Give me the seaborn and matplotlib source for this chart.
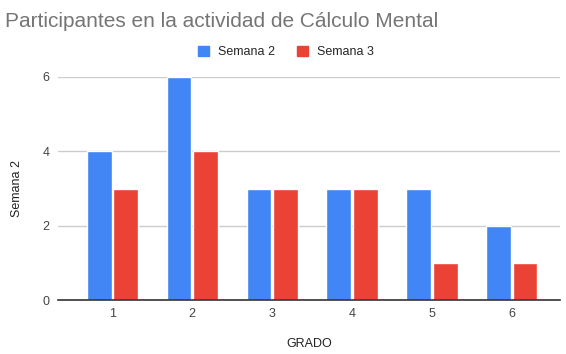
import matplotlib
matplotlib.use('Agg')
import matplotlib.pyplot as plt
from matplotlib.patches import Patch
import pandas as pd
import seaborn as sns

grados = ['1', '2', '3', '4', '5', '6']
semana_2 = [4, 6, 3, 3, 3, 2]
semana_3 = [3, 4, 3, 3, 1, 1]

df = pd.DataFrame({'GRADO': grados * 2,
                   'valor': semana_2 + semana_3,
                   'serie': ['Semana 2'] * 6 + ['Semana 3'] * 6})

sns.set_style('white')
plt.rcParams['font.family'] = ['Arial', 'Liberation Sans', 'DejaVu Sans']

fig = plt.figure(figsize=(5.66, 3.54), dpi=100)
ax = fig.add_axes([0.1025, 0.1525, 0.8865, 0.63])

sns.barplot(data=df, x='GRADO', y='valor', hue='serie',
            palette=['#4285f4', '#ea4335'], width=0.66, gap=0.06,
            saturation=1, ax=ax, legend=False)

ax.set_ylim(0, 6)
ax.set_xlim(-0.68, 5.6)
ax.set_yticks([0, 2, 4, 6])
ax.yaxis.grid(True, color='#cccccc', linewidth=1)
ax.set_axisbelow(True)
for s in ['top', 'right', 'left']:
    ax.spines[s].set_visible(False)
ax.spines['bottom'].set_color('#333333')
ax.spines['bottom'].set_linewidth(1.2)
ax.tick_params(length=0, labelsize=9, labelcolor='#444444', pad=6)
ax.set_xlabel('GRADO', fontsize=9, color='#222222', labelpad=13)
ax.set_ylabel('Semana 2', fontsize=9, color='#222222', labelpad=14)

fig.text(0.009, 0.94, 'Participantes en la actividad de Cálculo Mental',
         fontsize=15, color='#757575', va='center')

handles = [Patch(color='#4285f4', label='Semana 2'),
           Patch(color='#ea4335', label='Semana 3')]
fig.legend(handles=handles, loc='center', bbox_to_anchor=(0.505, 0.853), ncol=2,
           frameon=False, fontsize=9, handlelength=0.9, handleheight=0.9,
           columnspacing=1.8, handletextpad=0.7)

fig.savefig('out.png', dpi=100)
